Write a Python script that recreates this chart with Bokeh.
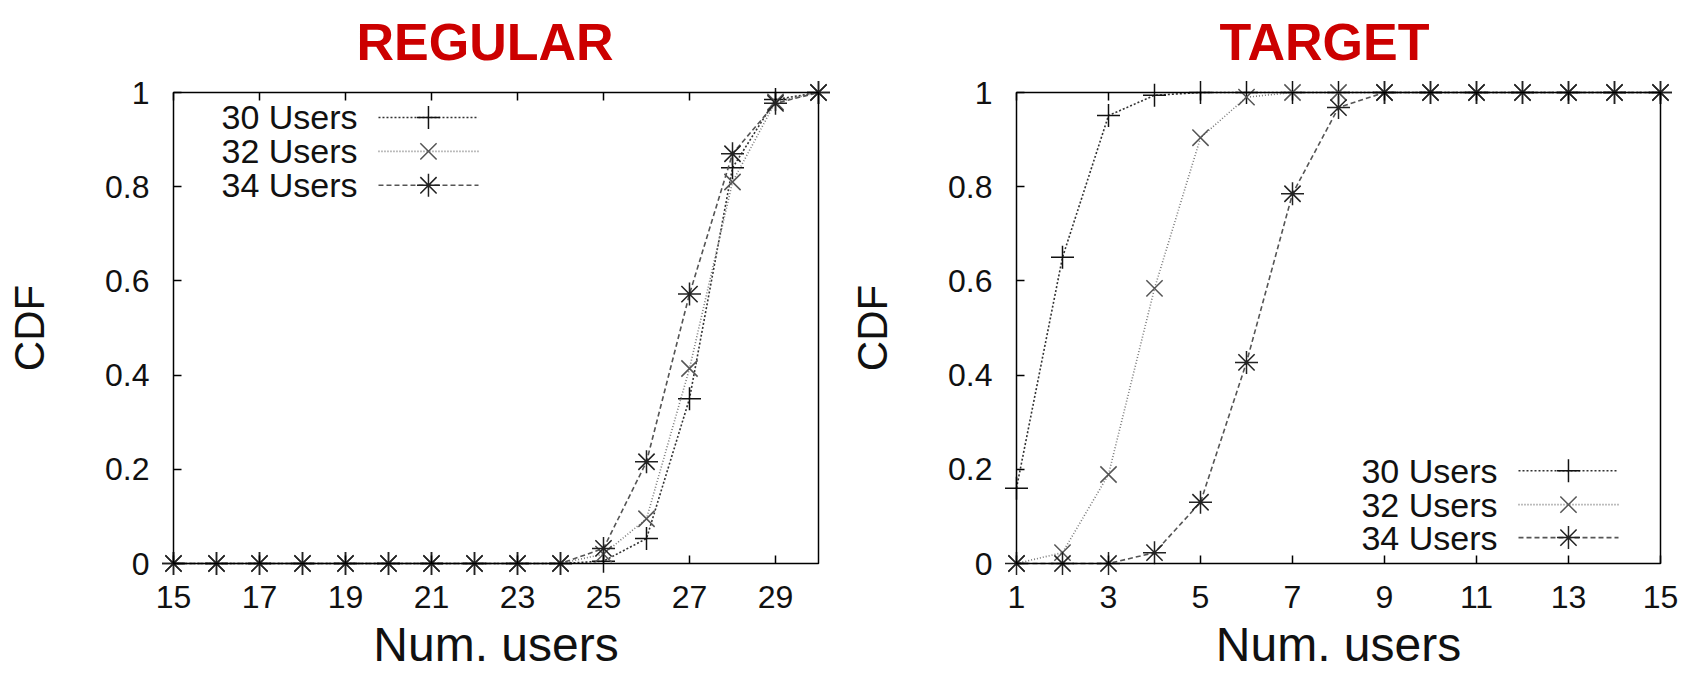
from bokeh.plotting import figure
from bokeh.layouts import row
from bokeh.models import Range1d, FixedTicker, LinearAxis, ColumnDataSource, Label, BoxAnnotation
from bokeh.embed import file_html
from bokeh.resources import INLINE

# ---------------- data ----------------
series_names = ["30 Users", "32 Users", "34 Users"]

reg_x = list(range(15, 31))
reg_30 = [0, 0, 0, 0, 0, 0, 0, 0, 0, 0, 0.005, 0.053, 0.35, 0.84, 0.985, 1.0]
reg_32 = [0, 0, 0, 0, 0, 0, 0, 0, 0, 0, 0.02, 0.095, 0.414, 0.81, 0.98, 1.0]
reg_34 = [0, 0, 0, 0, 0, 0, 0, 0, 0, 0, 0.032, 0.216, 0.572, 0.87, 0.977, 1.0]

tgt_x = list(range(1, 16))
tgt_30 = [0.16, 0.65, 0.951, 0.994, 1.0, 1.0, 1.0, 1.0, 1.0, 1.0, 1.0, 1.0, 1.0, 1.0, 1.0]
tgt_32 = [0.0, 0.023, 0.189, 0.584, 0.904, 0.99, 1.0, 1.0, 1.0, 1.0, 1.0, 1.0, 1.0, 1.0, 1.0]
tgt_34 = [0.0, 0.0, 0.0, 0.023, 0.13, 0.427, 0.785, 0.968, 1.0, 1.0, 1.0, 1.0, 1.0, 1.0, 1.0]

reg_xticks = [15, 17, 19, 21, 23, 25, 27, 29]
tgt_xticks = [1, 3, 5, 7, 9, 11, 13, 15]
yticks = [0, 0.2, 0.4, 0.6, 0.8, 1.0]
ytick_labels = {0: "0", 0.2: "0.2", 0.4: "0.4", 0.6: "0.6", 0.8: "0.8", 1.0: "1"}

# ---------------- styles ----------------
FONT = "Liberation Sans"
markers = ["cross", "x", "asterisk"]
line_colors = ["#333333", "#7a7a7a", "#555555"]
line_dashes = ["2 2", "1 2", "5 3"]
marker_colors = ["#111111", "#555555", "#222222"]

PAD = 12          # extra frame room so edge markers are not clipped
FRAME_H = 471     # visible box height in px
FRAME_TOP = 92


def make_fig(title, title_offset, xs, ys, xr, xticks, ml, mr, legend_frac):
    fw = 846 - ml - mr                     # visible box width in px
    x0, x1 = xr
    span = x1 - x0
    padx = PAD * span / fw
    pady = PAD / FRAME_H
    p = figure(width=846, height=673,
               x_range=Range1d(x0 - padx, x1 + padx), y_range=Range1d(-pady, 1 + pady),
               output_backend="svg", toolbar_location=None,
               min_border_left=ml - PAD, min_border_right=mr - PAD,
               min_border_top=FRAME_TOP - PAD,
               min_border_bottom=673 - FRAME_TOP - FRAME_H - PAD)
    p.background_fill_color = "white"
    p.border_fill_color = "white"
    p.xgrid.visible = False
    p.ygrid.visible = False
    p.outline_line_color = None

    p.title.text = title
    p.title.text_font = FONT
    p.title.text_font_size = "52px"
    p.title.text_font_style = "bold"
    p.title.text_color = "#cc0000"
    p.title.align = "left"
    p.title.offset = title_offset
    p.title.standoff = 20

    p.add_layout(BoxAnnotation(left=x0, right=x1, bottom=0, top=1, fill_alpha=0,
                               fill_color=None, line_color="black", line_width=1.5,
                               line_alpha=1))

    for ax in (p.xaxis[0], p.yaxis[0]):
        ax.major_tick_in = PAD + 8
        ax.major_tick_out = -PAD
        ax.minor_tick_line_color = None
        ax.axis_line_color = None
        ax.major_tick_line_width = 1.5
        ax.major_tick_line_color = "black"
        ax.major_label_text_font = FONT
        ax.major_label_text_font_size = "32px"
        ax.major_label_text_color = "#111111"
        ax.axis_label_text_font = FONT
        ax.axis_label_text_font_style = "normal"
        ax.axis_label_text_color = "#111111"

    p.xaxis.ticker = FixedTicker(ticks=xticks)
    p.xaxis.axis_label = "Num. users"
    p.xaxis.axis_label_text_font_size = "48px"
    p.xaxis.major_label_standoff = 10
    p.xaxis.axis_label_standoff = 7

    p.yaxis.ticker = FixedTicker(ticks=yticks)
    p.yaxis.major_label_overrides = ytick_labels
    p.yaxis.axis_label = "CDF"
    p.yaxis.axis_label_text_font_size = "42px"
    p.yaxis.major_label_standoff = 12
    p.yaxis.axis_label_standoff = 49

    top = LinearAxis(ticker=FixedTicker(ticks=xticks), major_tick_in=PAD + 8,
                     major_tick_out=-PAD, minor_tick_line_color=None, axis_line_color=None,
                     major_tick_line_width=1.5, major_tick_line_color="black",
                     major_label_standoff=0,
                     major_label_text_font_size="0px", major_label_text_color=None)
    p.add_layout(top, "above")

    for i, y in enumerate(ys):
        src = ColumnDataSource(dict(x=xs, y=y))
        p.line("x", "y", source=src, line_color=line_colors[i], line_dash=line_dashes[i],
               line_width=1.6)
        p.scatter("x", "y", source=src, marker=markers[i], size=23,
                  line_color=marker_colors[i], line_width=1.5, fill_color=None)

    # legend (text left, sample right) placed in frame fractions
    tx, lx0, lx1, mx, rows = legend_frac
    for i, name in enumerate(series_names):
        yy = rows[i]
        p.add_layout(Label(x=x0 + tx * span, y=yy, text=name, text_align="right",
                           text_baseline="middle", text_font=FONT, text_font_size="34px",
                           text_color="#111111"))
        p.segment(x0=[x0 + lx0 * span], y0=[yy], x1=[x0 + lx1 * span], y1=[yy],
                  line_color=line_colors[i], line_dash=line_dashes[i], line_width=1.6)
        p.scatter(x=[x0 + mx * span], y=[yy], marker=markers[i], size=23,
                  line_color=marker_colors[i], line_width=1.5, fill_color=None)
    return p


p1 = make_fig("REGULAR", 195, reg_x, [reg_30, reg_32, reg_34], (15, 30), reg_xticks, 173, 28,
              (0.2853, 0.3178, 0.4729, 0.3953, [0.947, 0.875, 0.803]))
p2 = make_fig("TARGET", 215, tgt_x, [tgt_30, tgt_32, tgt_34], (1, 15), tgt_xticks, 170, 32,
              (0.7469, 0.7795, 0.9348, 0.8571, [0.197, 0.125, 0.055]))

layout = row(p1, p2)
open("out.html", "w").write(file_html(layout, INLINE))
